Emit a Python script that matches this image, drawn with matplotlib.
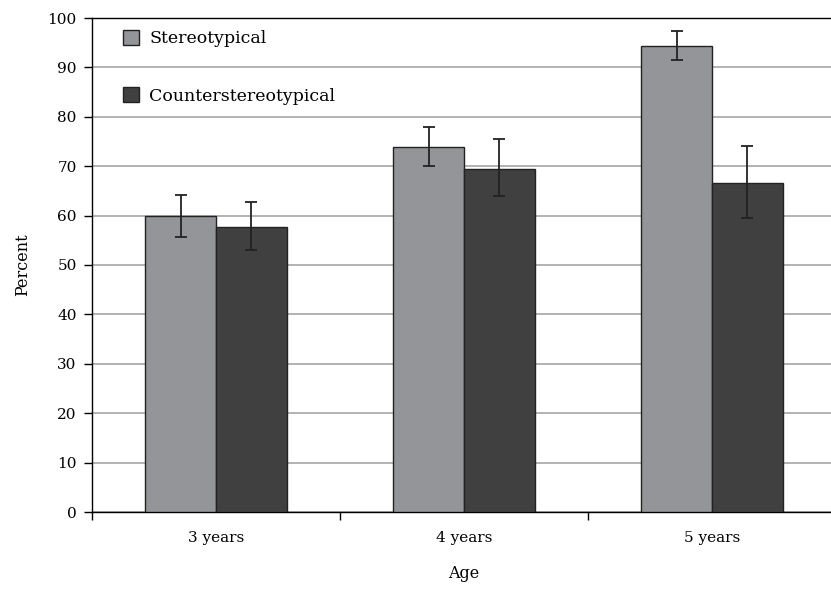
import numpy as np
import matplotlib
matplotlib.use("Agg")
import matplotlib.pyplot as plt
from matplotlib.patches import Patch

ages = ["3 years", "4 years", "5 years"]
stereo = [60.0, 73.8, 94.3]
stereo_lo = [55.6, 70.0, 91.4]
stereo_hi = [64.1, 77.9, 97.4]
counter = [57.7, 69.4, 66.6]
counter_lo = [53.0, 64.0, 59.6]
counter_hi = [62.7, 75.5, 74.0]

plt.rcParams["font.family"] = ["DejaVu Serif"]

fig = plt.figure(figsize=(8.31, 5.92), dpi=100)
ax = fig.add_axes([92 / 831, 1 - 512 / 592, (836 - 92) / 831, (512 - 18) / 592])

x = np.arange(len(ages))
w = 0.285
c_st = "#939598"
c_ct = "#404040"

s_err = [np.array(stereo) - np.array(stereo_lo), np.array(stereo_hi) - np.array(stereo)]
c_err = [np.array(counter) - np.array(counter_lo), np.array(counter_hi) - np.array(counter)]

ax.bar(x - w / 2, stereo, w, color=c_st, edgecolor="#222222", linewidth=1.0, zorder=3)
ax.bar(x + w / 2, counter, w, color=c_ct, edgecolor="#222222", linewidth=1.0, zorder=3)
ax.errorbar(x - w / 2, stereo, yerr=s_err, fmt="none", ecolor="#222222",
            elinewidth=1.3, capsize=4.5, capthick=1.3, zorder=4)
ax.errorbar(x + w / 2, counter, yerr=c_err, fmt="none", ecolor="#222222",
            elinewidth=1.3, capsize=4.5, capthick=1.3, zorder=4)

ax.set_xlim(-0.5, 2.5)
ax.set_ylim(0, 100)
ax.set_yticks(range(0, 101, 10))
ax.yaxis.grid(True, color="#a6a6a6", linewidth=1.2, zorder=0)
ax.set_axisbelow(True)

ax.set_xticks(x)
ax.set_xticklabels(ages, fontsize=11)
ax.tick_params(axis="x", length=0, pad=14)
ax.set_xticks([-0.5, 0.5, 1.5, 2.5], minor=True)
ax.tick_params(axis="x", which="minor", length=6, width=1, direction="out")
ax.tick_params(axis="y", labelsize=11, length=6, width=1, direction="out", pad=5)

for s in ["left", "bottom", "top"]:
    ax.spines[s].set_color("black")
    ax.spines[s].set_linewidth(1.0)
ax.spines["right"].set_visible(False)

ax.set_ylabel("Percent", fontsize=11.5, labelpad=12)
ax.set_xlabel("Age", fontsize=11.5, labelpad=14)

handles = [Patch(facecolor=c_st, edgecolor="#222222", label="Stereotypical"),
           Patch(facecolor=c_ct, edgecolor="#222222", label="Counterstereotypical")]
ax.legend(handles=handles, loc="upper left", bbox_to_anchor=(0.02, 1.008), frameon=False,
          fontsize=12.5, labelspacing=2.3, handlelength=0.95, handleheight=0.95,
          handletextpad=0.6)

fig.savefig("out.png", dpi=100)
